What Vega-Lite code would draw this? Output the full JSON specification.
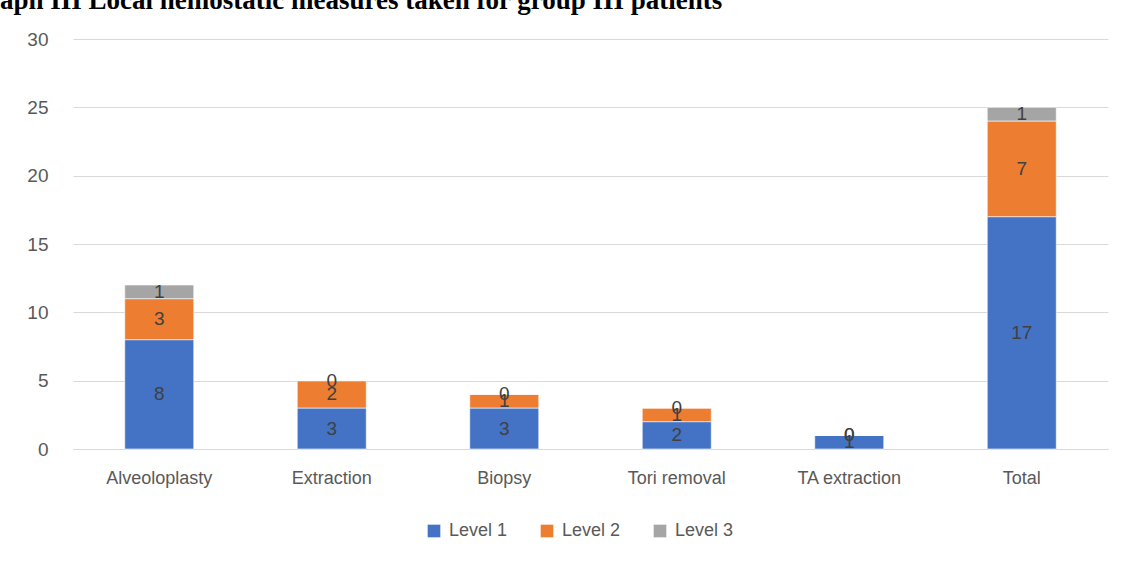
{
  "$schema": "https://vega.github.io/schema/vega-lite/v6.json",
  "width": 1035,
  "height": 410,
  "autosize": {"type": "none"},
  "padding": {"left": 73, "top": 39, "right": 15, "bottom": 115},
  "background": "white",
  "title": {
    "text": "Graph III Local hemostatic measures taken for group III patients",
    "anchor": "start",
    "frame": "group",
    "font": "Liberation Serif",
    "fontSize": 27,
    "fontWeight": "bold",
    "color": "#000000",
    "dx": -106,
    "offset": 15
  },
  "data": {
    "values": [
      {"procedure": "Alveoloplasty", "level": "Level 1", "count": 8},
      {"procedure": "Alveoloplasty", "level": "Level 2", "count": 3},
      {"procedure": "Alveoloplasty", "level": "Level 3", "count": 1},
      {"procedure": "Extraction", "level": "Level 1", "count": 3},
      {"procedure": "Extraction", "level": "Level 2", "count": 2},
      {"procedure": "Extraction", "level": "Level 3", "count": 0},
      {"procedure": "Biopsy", "level": "Level 1", "count": 3},
      {"procedure": "Biopsy", "level": "Level 2", "count": 1},
      {"procedure": "Biopsy", "level": "Level 3", "count": 0},
      {"procedure": "Tori removal", "level": "Level 1", "count": 2},
      {"procedure": "Tori removal", "level": "Level 2", "count": 1},
      {"procedure": "Tori removal", "level": "Level 3", "count": 0},
      {"procedure": "TA extraction", "level": "Level 1", "count": 1},
      {"procedure": "TA extraction", "level": "Level 2", "count": 0},
      {"procedure": "TA extraction", "level": "Level 3", "count": 0},
      {"procedure": "Total", "level": "Level 1", "count": 17},
      {"procedure": "Total", "level": "Level 2", "count": 7},
      {"procedure": "Total", "level": "Level 3", "count": 1}
    ]
  },
  "transform": [
    {"stack": "count", "groupby": ["procedure"], "sort": [{"field": "level", "order": "ascending"}], "as": ["c0", "c1"]},
    {"calculate": "(datum.c0 + datum.c1) / 2", "as": "cmid"}
  ],
  "encoding": {
    "x": {
      "field": "procedure",
      "type": "nominal",
      "sort": ["Alveoloplasty", "Extraction", "Biopsy", "Tori removal", "TA extraction", "Total"],
      "scale": {"paddingInner": 0.6, "paddingOuter": 0.3},
      "axis": {
        "title": null,
        "labelAngle": 0,
        "ticks": false,
        "domain": true,
        "domainColor": "#D9D9D9",
        "domainWidth": 1,
        "labelPadding": 20,
        "labelFont": "Liberation Sans",
        "labelFontSize": 18,
        "labelColor": "#595959"
      }
    }
  },
  "layer": [
    {
      "mark": {"type": "bar", "stroke": "#ffffff", "strokeWidth": 1, "strokeOpacity": 0.6},
      "encoding": {
        "y": {
          "field": "c1",
          "type": "quantitative",
          "scale": {"domain": [0, 30], "nice": false},
          "axis": {
            "title": null,
            "values": [0, 5, 10, 15, 20, 25, 30],
            "domain": false,
            "ticks": false,
            "grid": true,
            "gridColor": "#D9D9D9",
            "gridWidth": 1,
            "labelPadding": 25,
            "labelFont": "Liberation Sans",
            "labelFontSize": 19,
            "labelColor": "#595959"
          }
        },
        "y2": {"field": "c0"},
        "color": {
          "field": "level",
          "type": "nominal",
          "scale": {"domain": ["Level 1", "Level 2", "Level 3"], "range": ["#4472C4", "#ED7D31", "#A5A5A5"]},
          "legend": {
            "title": null,
            "orient": "none",
            "legendX": 352,
            "legendY": 483,
            "direction": "horizontal",
            "symbolType": "square",
            "symbolSize": 160,
            "symbolStrokeWidth": 0,
            "labelFont": "Liberation Sans",
            "labelFontSize": 18,
            "labelColor": "#595959",
            "labelOffset": 6,
            "columnPadding": 30
          }
        }
      }
    },
    {
      "mark": {"type": "text", "font": "Liberation Sans", "fontSize": 19, "color": "#404040", "baseline": "middle", "align": "center"},
      "encoding": {
        "y": {"field": "cmid", "type": "quantitative"},
        "text": {"field": "count", "type": "quantitative"}
      }
    }
  ],
  "config": {
    "view": {"stroke": null}
  }
}
